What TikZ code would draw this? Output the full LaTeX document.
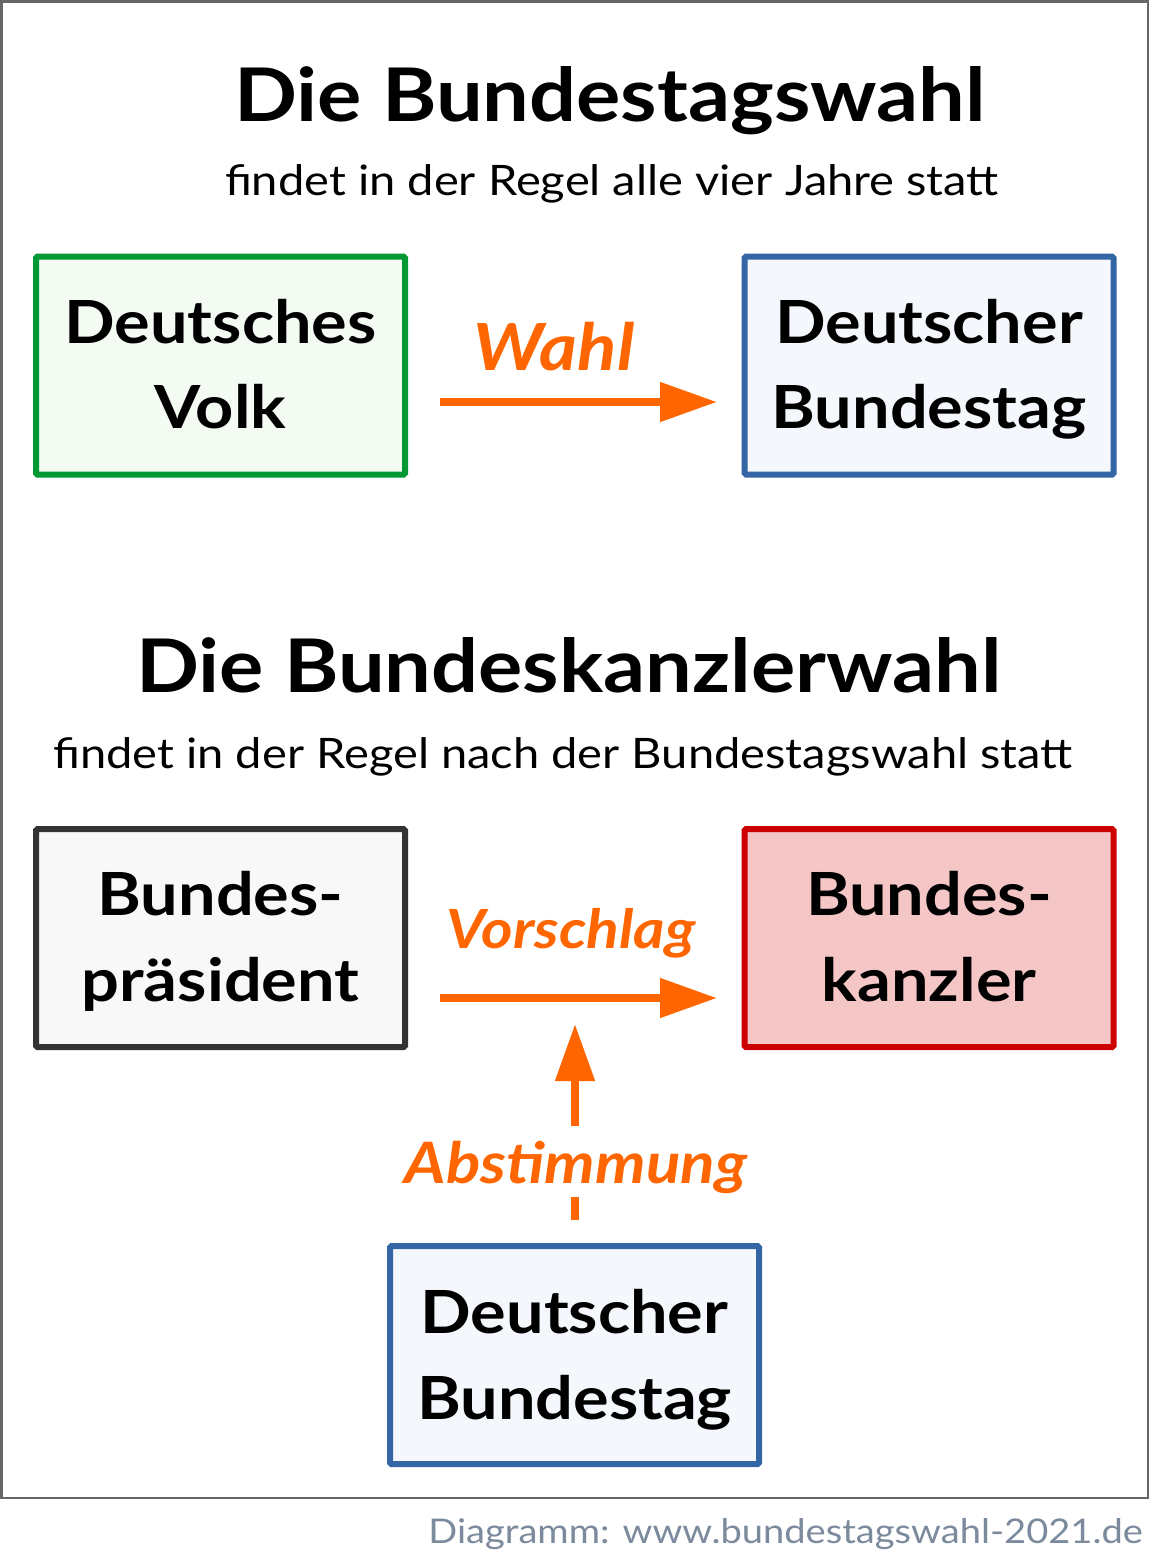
\documentclass[tikz,border=0pt]{standalone}
\usepackage{fontspec}
\setmainfont{Lato}[FakeStretch=1.12]
\usetikzlibrary{arrows.meta}
\definecolor{cgreen}{HTML}{009933}
\definecolor{cgreenfill}{HTML}{F3FBF3}
\definecolor{cblue}{HTML}{3465A4}
\definecolor{cbluefill}{HTML}{F4F7FC}
\definecolor{cdark}{HTML}{333333}
\definecolor{cdarkfill}{HTML}{F8F8F8}
\definecolor{cred}{HTML}{CC0000}
\definecolor{credfill}{HTML}{F4C6C6}
\definecolor{corange}{HTML}{FF6600}
\definecolor{cfoot}{HTML}{7B8A9C}
\definecolor{cframe}{HTML}{666666}
\tikzset{
  box/.style={draw, line width=6pt, rounded corners=1.5pt, minimum width=369pt, minimum height=218pt, inner sep=0pt},
  boxtext/.style={anchor=base, inner sep=0pt, font=\fontsize{59.5}{60}\selectfont\bfseries},
  title/.style={anchor=base, inner sep=0pt, font=\fontsize{74}{75}\selectfont\bfseries},
  subtitle/.style={anchor=base, inner sep=0pt, font=\fontsize{42}{43}\selectfont},
  olabel/.style={anchor=base, inner sep=0pt, text=corange, font=\bfseries\itshape},
  oarrow/.style={draw=corange, line width=8pt, -{Triangle[length=57pt,width=38pt]}},
}
\begin{document}
\begin{tikzpicture}[x=1pt,y=-1pt]
\useasboundingbox (0,0) rectangle (1150,1551);
\draw[cframe, line width=2.5pt] (1.5,1.5) rectangle (1148,1498);

% titles
\node[title] (t1) at (610,121.7) {Die Bundestagswahl};
\node[subtitle] (s1) at (612,195.7) {findet in der Regel alle vier Jahre statt};
\node[title] (t2) at (569,692) {Die Bundeskanzlerwahl};
\node[subtitle] (s2) at (563,768) {findet in der Regel nach der Bundestagswahl statt};

% boxes
\node[box, draw=cgreen, fill=cgreenfill] (volk) at (220.5,365.5) {};
\node[box, draw=cblue, fill=cbluefill] (bt1) at (929,365.5) {};
\node[box, draw=cdark, fill=cdarkfill] (bp) at (220.5,938) {};
\node[box, draw=cred, fill=credfill] (bk) at (929,938) {};
\node[box, draw=cblue, fill=cbluefill] (bt2) at (574.5,1355) {};

% box texts
\node[boxtext] (volk1) at (220.5,343.3) {Deutsches};
\node[boxtext] (volk2) at (220.5,428.7) {Volk};
\node[boxtext] (bt1a) at (929,343.3) {Deutscher};
\node[boxtext] (bt1b) at (929,428.7) {Bundestag};
\node[boxtext] (bp1) at (220.5,915) {Bundes-};
\node[boxtext] (bp2) at (220.5,1001.7) {präsident};
\node[boxtext] (bk1) at (929,915) {Bundes-};
\node[boxtext] (bk2) at (929,1001.7) {kanzler};
\node[boxtext] (bt2a) at (574.5,1333) {Deutscher};
\node[boxtext] (bt2b) at (574.5,1419) {Bundestag};

% arrows
\coordinate (w0) at (440,402);
\coordinate (w1) at (717,402);
\draw[oarrow] (w0) -- (w1);
\node[olabel, font=\fontsize{65}{66}\selectfont\bfseries\itshape] (wahl) at (554,370.7) {Wahl};

\coordinate (v0) at (440,998);
\coordinate (v1) at (717,998);
\draw[oarrow] (v0) -- (v1);
\node[olabel, font=\fontsize{54}{55}\selectfont\bfseries\itshape] (vor) at (571,948) {Vorschlag};

\node[olabel, font=\fontsize{57}{58}\selectfont\bfseries\itshape, text height=57pt, text depth=13pt] (abst) at (576,1183.3) {Abstimmung};
\coordinate (a0) at (575,1220);
\coordinate (a1) at (575,1024);
\draw[corange, line width=8pt] (abst.south -| a0) -- (a0);
\draw[oarrow] (abst.north -| a1) -- (a1);

% footer
\node[anchor=base east, inner sep=0pt, text=cfoot, font=\fontsize{34}{35}\selectfont] (foot) at (1143,1543) {Diagramm: www.bundestagswahl-2021.de};
\end{tikzpicture}
\end{document}
